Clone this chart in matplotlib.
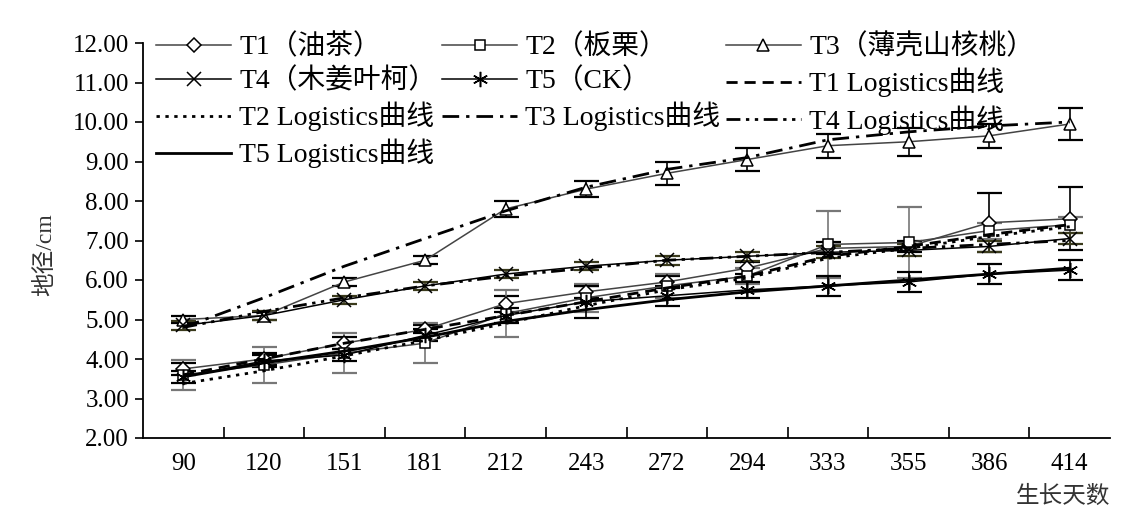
import numpy as np
import matplotlib
matplotlib.use('Agg')
from matplotlib import pyplot as plt

plt.rcParams['font.family'] = ['Liberation Serif', 'Noto Sans CJK SC']
plt.rcParams['font.size'] = 18

# data ------------------------------------------------------------------
days = ['90', '120', '151', '181', '212', '243', '272', '294', '333', '355', '386', '414']

t1 = [3.75, 4.00, 4.40, 4.75, 5.40, 5.70, 5.95, 6.30, 6.80, 6.85, 7.45, 7.55]
t1_err = [0.15, 0.15, 0.15, 0.10, 0.20, 0.15, 0.15, 0.15, 0.15, 0.15, 0.75, 0.80]
t2 = [3.60, 3.85, 4.15, 4.40, 5.15, 5.55, 5.85, 6.10, 6.90, 6.95, 7.25, 7.40]
t2_err = [0.38, 0.45, 0.50, 0.50, 0.60, 0.35, 0.30, 0.20, 0.85, 0.90, 0.20, 0.20]
t3 = [5.00, 5.10, 5.95, 6.50, 7.80, 8.30, 8.70, 9.05, 9.40, 9.50, 9.65, 9.95]
t3_err = [0.10, 0.10, 0.10, 0.10, 0.20, 0.20, 0.30, 0.30, 0.30, 0.35, 0.30, 0.40]
t4 = [4.85, 5.10, 5.50, 5.85, 6.15, 6.35, 6.50, 6.60, 6.70, 6.75, 6.85, 7.05]
t4_err = [0.12, 0.12, 0.10, 0.10, 0.10, 0.10, 0.12, 0.12, 0.15, 0.15, 0.15, 0.15]
t5 = [3.55, 3.95, 4.10, 4.60, 5.10, 5.45, 5.60, 5.75, 5.85, 5.95, 6.15, 6.25]
t5_err = [0.15, 0.15, 0.15, 0.15, 0.20, 0.40, 0.25, 0.20, 0.25, 0.25, 0.25, 0.25]

t1_log = [3.60, 4.00, 4.40, 4.75, 5.10, 5.45, 5.80, 6.10, 6.60, 6.85, 7.15, 7.40]
t2_log = [3.38, 3.70, 4.08, 4.47, 4.90, 5.35, 5.75, 6.05, 6.55, 6.80, 7.10, 7.35]
t3_log = [4.80, 5.55, 6.35, 7.05, 7.75, 8.35, 8.80, 9.10, 9.55, 9.75, 9.90, 10.00]
t4_log = [4.80, 5.20, 5.55, 5.85, 6.10, 6.30, 6.50, 6.60, 6.70, 6.80, 6.90, 7.00]
t5_log = [3.55, 3.90, 4.20, 4.55, 4.95, 5.25, 5.50, 5.70, 5.85, 6.00, 6.15, 6.30]

labels = ['T1（油茶）', 'T2（板栗）', 'T3（薄壳山核桃）', 'T4（木姜叶柯）', 'T5（CK）']
log_labels = ['T1 Logistics曲线', 'T2 Logistics曲线', 'T3 Logistics曲线',
              'T4 Logistics曲线', 'T5 Logistics曲线']

# plot ------------------------------------------------------------------
fig = plt.figure(figsize=(11.35, 5.26), dpi=100)
ax = fig.add_axes([143/1135, 1-438/526, (1110-143)/1135, (438-43)/526])
x = np.arange(len(days))

series = [
  (t1, t1_err, 'D', 7, '#444444', 'black'),
  (t2, t2_err, 's', 7, '#444444', '#777777'),
  (t3, t3_err, '^', 9, '#444444', 'black'),
  (t4, t4_err, 'x', 10, 'black', '#3a3a1c'),
  (t5, t5_err, (6, 2, 0), 11, 'black', 'black'),
]
h = {}
for (vals, err, mk, ms, lc, ec), lab in zip(series, labels):
  ax.errorbar(x, vals, yerr=err, fmt='none', ecolor=ec, elinewidth=1.2,
              capsize=9, capthick=1.6, zorder=2)
  ln, = ax.plot(x, vals, '-', color=lc, lw=1.1, marker=mk, ms=ms,
                mfc='white', mec='black', mew=1.1, zorder=3)
  h[lab] = ln

log_series = [
  (t1_log, (4, 2.5)),
  (t2_log, (1.2, 2)),
  (t3_log, (6, 2.5, 1.2, 2.5)),
  (t4_log, (5, 2, 1.2, 2, 1.2, 2)),
  (t5_log, None),
]
for (vals, ds), lab in zip(log_series, log_labels):
  ln, = ax.plot(x, vals, color='black', lw=2.0, zorder=4)
  if ds is not None:
    ln.set_dashes(ds)
  h[lab] = ln

# legend order: filled column-wise -> reorder so rows read like the original
order = [labels[0], labels[3], log_labels[1], log_labels[4],
         labels[1], labels[4], log_labels[2],
         labels[2], log_labels[0], log_labels[3]]
ax.legend([h[k] for k in order], order, ncol=3, frameon=False, fontsize=20,
          loc='upper left', bbox_to_anchor=(156/1135, 1-34/526),
          bbox_transform=fig.transFigure, handlelength=2.7,
          handletextpad=0.3, columnspacing=0.2, labelspacing=0.27,
          borderaxespad=0, borderpad=0)

ax.set_xlim(-0.5, len(days) - 0.5)
ax.set_ylim(2, 12)
ax.set_yticks(np.arange(2, 12.01, 1))
ax.set_yticklabels(['%.2f' % v for v in np.arange(2, 12.01, 1)])
ax.set_xticks(np.arange(len(days) - 1) + 0.5)
ax.set_xticklabels([])
ax.set_xticks(x, minor=True)
ax.set_xticklabels(days, minor=True)
ax.tick_params(axis='x', which='major', direction='in', length=8, width=1.2)
ax.tick_params(axis='x', which='minor', length=0, pad=11)
ax.tick_params(axis='y', direction='out', length=6, width=1.2, pad=4)
ax.spines['top'].set_visible(False)
ax.spines['right'].set_visible(False)
for s in ['left', 'bottom']:
  ax.spines[s].set_linewidth(1.3)

fig.text(1110/1135, 1-497/526, '生长天数', ha='right', va='center', fontsize=17,
         color='#333333')
fig.text(45/1135, 1-255/526, '地径/cm', ha='center', va='center', rotation=90,
         fontsize=17, color='#333333')

plt.savefig('out.png', dpi=100)
